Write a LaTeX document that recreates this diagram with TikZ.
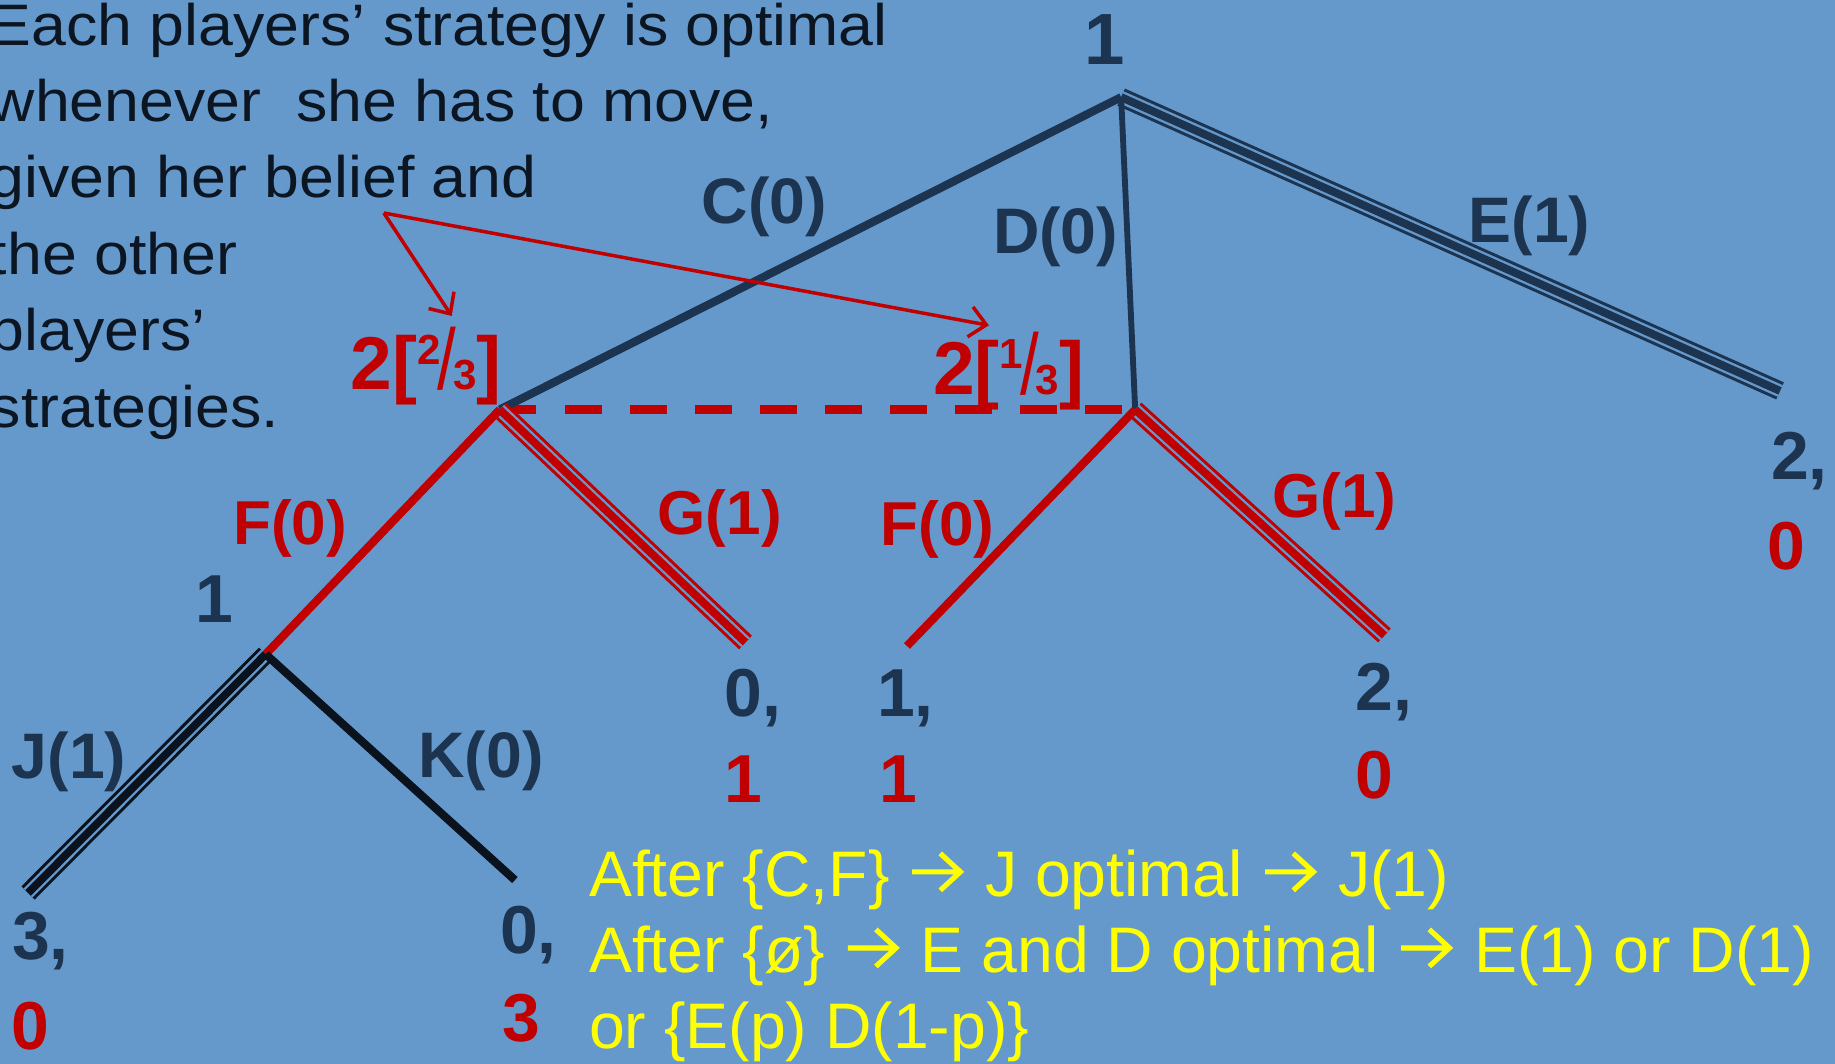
\documentclass[tikz,border=0pt]{standalone}
\usepackage{graphicx}
\usepackage{fontspec}
\setmainfont{Liberation Sans}
\newfontfamily\bodyfnt[FakeStretch=1.07]{Liberation Sans}
\usetikzlibrary{arrows.meta}
\definecolor{bgblue}{HTML}{6699CB}
\definecolor{navy}{HTML}{1C3450}
\definecolor{inkc}{HTML}{0B1622}
\definecolor{dred}{HTML}{C00000}
\definecolor{blk}{HTML}{0A131D}
\definecolor{ylw}{HTML}{FFFF00}
\newcommand\myfrac[2]{\raisebox{0.34em}{\fontsize{18}{18}\selectfont #1}\kern-0.04em{\mdseries\scalebox{0.9}[1.15]{/}}\kern-0.04em{\fontsize{18}{18}\selectfont #2}}
\newcommand\yarr{\tikz[x=1pt,y=1pt,baseline=0pt]{\path (0pt,0pt) (25.5pt,0pt);\draw[ylw,line width=2.2pt,line cap=butt,line join=miter] (2pt,10.5pt) -- (22.5pt,10.5pt) (14pt,18.4pt) -- (22.6pt,10.5pt) -- (14pt,2.6pt);}}
\begin{document}
\begin{tikzpicture}[x=0.5pt,y=-0.5pt,
  lab/.style={text=navy,font=\bfseries\fontsize{27.5}{27.5}\selectfont,inner sep=0pt,anchor=base},
  rlab/.style={text=dred,font=\bfseries\fontsize{26.5}{26.5}\selectfont,inner sep=0pt,anchor=base},
  pnum/.style={font=\bfseries\fontsize{29}{29}\selectfont,inner sep=0pt,anchor=base west},
  body/.style={text=inkc,font=\bodyfnt\fontsize{25}{25}\selectfont,inner sep=0pt,anchor=base west},
  ytext/.style={text=ylw,font=\fontsize{27.5}{27.5}\selectfont,inner sep=0pt,anchor=base west},
  triple/.style={draw=#1,line width=8pt,postaction={draw=bgblue,line width=5.4pt},postaction={draw=#1,line width=3.4pt}},
  ptr/.style={draw=dred,line width=1.5pt,-{Straight Barb[length=7pt,width=13pt]}},
]
\useasboundingbox (0,0) rectangle (1568,909);
\fill[bgblue] (0,0) rectangle (1568,909);

% vertices and ends
\coordinate (root) at (958,83);
\coordinate (n2L) at (427,350);
\coordinate (n2R) at (970,350);
\coordinate (n1) at (227,559);
\coordinate (eE) at (1521,334);
\coordinate (eGL) at (637,549);
\coordinate (eFR) at (775,552);
\coordinate (eGR) at (1183,543);
\coordinate (eJ) at (24,763);
\coordinate (eK) at (440,752);
\coordinate (src) at (328,182);
\coordinate (tipL) at (386,270);
\coordinate (tipR) at (845,278);

% edges
\draw[dred,line width=3.8pt,dash pattern=on 15.7pt off 12.1pt] (n2L) -- (n2R);
\draw[triple=navy] (root) -- (eE);
\draw[navy,line width=3.5pt] (root) -- (n2L);
\draw[navy,line width=2.5pt] (root) -- (n2R);
\draw[triple=dred] (n2L) -- (eGL);
\draw[dred,line width=3.5pt] (n2L) -- (n1);
\draw[triple=dred] (n2R) -- (eGR);
\draw[dred,line width=3.5pt] (n2R) -- (eFR);
\draw[triple=blk] (n1) -- (eJ);
\draw[blk,line width=3.5pt] (n1) -- (eK);
\draw[ptr] (src) -- (tipL);
\draw[ptr] (src) -- (tipR);

% labels
\node[lab,font=\bfseries\fontsize{31}{31}\selectfont] (l1top) at (944,55) {1};
\node[lab] (lC) at (653,191) {C(0)};
\node[lab] (lD) at (902,217) {D(0)};
\node[lab] (lE) at (1307,207) {E(1)};
\node[rlab,font=\bfseries\fontsize{32}{32}\selectfont] (l2L) at (364,333) {2[\myfrac{2}{3}]};
\node[rlab,font=\bfseries\fontsize{32}{32}\selectfont] (l2R) at (862,337) {2[\myfrac{1}{3}]};
\node[rlab] (lFL) at (248,465) {F(0)};
\node[rlab] (lGL) at (615,457) {G(1)};
\node[rlab] (lFR) at (801,466) {F(0)};
\node[rlab] (lGR) at (1140,442) {G(1)};
\node[lab,font=\bfseries\fontsize{29}{29}\selectfont] (l1low) at (183,532) {1};
\node[lab] (lJ) at (59,665) {J(1)};
\node[lab] (lK) at (411,664) {K(0)};

% payoffs
\node[pnum,text=navy] (pJa) at (10,820) {3,};
\node[pnum,text=dred] (pJb) at (9,897) {0};
\node[pnum,text=navy] (pKa) at (427,815) {0,};
\node[pnum,text=dred] (pKb) at (429,890) {3};
\node[pnum,text=navy] (pGLa) at (619,612) {0,};
\node[pnum,text=dred] (pGLb) at (619,686) {1};
\node[pnum,text=navy] (pFRa) at (749,612) {1,};
\node[pnum,text=dred] (pFRb) at (751,686) {1};
\node[pnum,text=navy] (pGRa) at (1158,607) {2,};
\node[pnum,text=dred] (pGRb) at (1158,682) {0};
\node[pnum,text=navy] (pEa) at (1513,410) {2,};
\node[pnum,text=dred] (pEb) at (1510,487) {0};

% explanatory text
\node[body] (t1) at (-9,38.5) {Each players’ strategy is optimal};
\node[body] (t2) at (-9,103.8) {whenever\ \ she has to move,};
\node[body] (t3) at (-9,169) {given her belief and};
\node[body] (t4) at (-9,234.4) {the other};
\node[body] (t5) at (-9,299.7) {players’};
\node[body] (t6) at (-9,365) {strategies.};

\node[ytext] (y1) at (503,766) {After \{C,F\} \yarr{} J optimal \yarr{} J(1)};
\node[ytext] (y2) at (503,831) {After \{ø\} \yarr{} E and D optimal \yarr{} E(1) or D(1)};
\node[ytext] (y3) at (503,896) {or \{E(p) D(1-p)\}};
\end{tikzpicture}
\end{document}
